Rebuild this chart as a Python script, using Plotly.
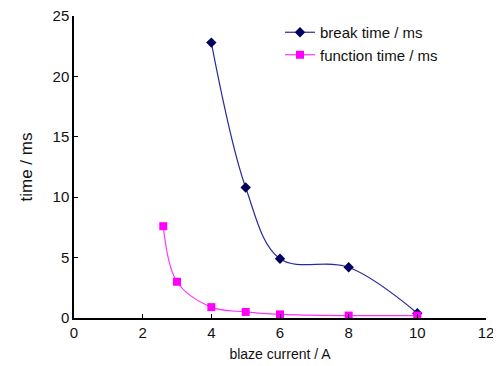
import plotly.graph_objects as go

break_x = [4, 5, 6, 8, 10]
break_y = [22.8, 10.8, 4.9, 4.2, 0.4]
func_x = [2.6, 3, 4, 5, 6, 8, 10]
func_y = [7.6, 3.0, 0.9, 0.5, 0.3, 0.2, 0.2]

regular = "Liberation Sans, Arial, sans-serif"

fig = go.Figure()
fig.add_trace(go.Scatter(
    x=break_x, y=break_y, name="break time / ms", mode="lines+markers",
    line=dict(color="#2a2a9a", width=1.2, shape="spline", smoothing=1),
    marker=dict(symbol="diamond", size=8, color="#00005e"),
))
fig.add_trace(go.Scatter(
    x=func_x, y=func_y, name="function time / ms", mode="lines+markers",
    line=dict(color="#ff33ff", width=1.2, shape="spline", smoothing=1),
    marker=dict(symbol="square", size=8, color="#ff00ff"),
))

# page body has an 8px margin, so plot-area offsets are compensated
fig.update_layout(
    width=501, height=366,
    margin=dict(l=66, r=23, t=8, b=56),
    paper_bgcolor="white", plot_bgcolor="white",
    font=dict(family=regular, size=15, color="#111111"),
    showlegend=True,
    legend=dict(x=0.5, y=1.0, xanchor="left", yanchor="top",
                bgcolor="rgba(0,0,0,0)", font=dict(family=regular, size=15),
                itemwidth=30, tracegroupgap=0),
    xaxis=dict(range=[0, 12], tickvals=[0, 2, 4, 6, 8, 10, 12],
               showgrid=False, zeroline=False, showline=True,
               linecolor="black", linewidth=1.5, ticks="inside", ticklen=4,
               tickcolor="black", automargin=False,
               ticklabeloverflow="allow",
               tickfont=dict(size=15),
               title=dict(text="blaze current / A", standoff=9,
                          font=dict(size=14))),
    yaxis=dict(range=[0, 25], tickvals=[0, 5, 10, 15, 20, 25],
               showgrid=False, zeroline=False, showline=True,
               linecolor="black", linewidth=1.5, ticks="inside", ticklen=4,
               tickcolor="black", automargin=False,
               ticklabeloverflow="allow",
               tickfont=dict(size=15),
               title=dict(text="time / ms", standoff=16,
                          font=dict(size=17))),
)

fig.write_html("out.html")
